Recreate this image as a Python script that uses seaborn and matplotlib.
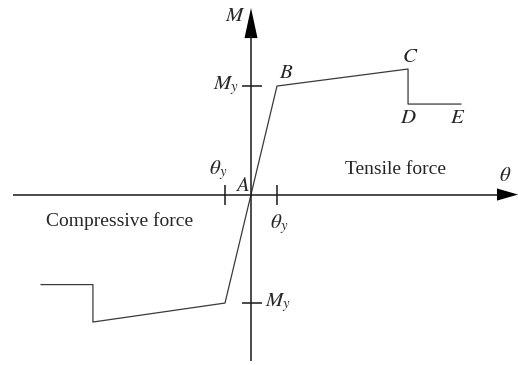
import matplotlib
matplotlib.use("Agg")
import matplotlib.pyplot as plt
import seaborn as sns
import pandas as pd

# Idealised moment-rotation backbone, in units of theta_y and M_y
theta = [-8.08, -6.08, -6.08, -1.0, 1.0, 6.04, 6.04, 8.08]
moment = [-0.83, -0.83, -1.175, -1.0, 1.0, 1.157, 0.834, 0.834]

# Point labels on the curve
point_names = ["B", "C", "D", "E"]
point_theta = [1.35, 6.11, 6.04, 7.96]
point_moment = [1.12, 1.267, 0.705, 0.705]

sns.set_theme(style="white")
plt.rcParams["font.family"] = ["Liberation Serif", "DejaVu Serif"]
plt.rcParams["mathtext.fontset"] = "stix"

fig = plt.figure(figsize=(5.18, 3.65), dpi=100)
ax = fig.add_axes([0, 0, 1, 1])
ax.set_xlim(-9.654, 10.269)
ax.set_ylim(-1.571, 1.793)
ax.axis("off")

df = pd.DataFrame({"theta": theta, "M": moment})
sns.lineplot(data=df, x="theta", y="M", sort=False, estimator=None,
             color="#3a3a3a", lw=0.9, ax=ax)

axis_kw = dict(color="#1a1a1a", lw=1.1, solid_capstyle="butt")
# horizontal axis and arrow head
ax.plot([-9.154, 9.5], [0, 0], **axis_kw)
ax.fill([9.46, 10.27, 9.46], [0.056, 0, -0.056], color="black", lw=0)
# vertical axis and arrow head
ax.plot([0, 0], [-1.535, 1.46], **axis_kw)
ax.fill([-0.25, 0, 0.25], [1.442, 1.719, 1.442], color="black", lw=0)

# yield ticks
for s in (-1, 1):
    ax.plot([s, s], [-0.092, 0.092], **axis_kw)
    ax.plot([-0.35, 0.42], [s, s], **axis_kw)

fs = 15
ax.text(-0.615, 1.645, "$M$", fontsize=fs, ha="center", va="center")
ax.text(9.77, 0.17, r"$\theta$", fontsize=fs, ha="center", va="center")
ax.text(-0.48, 1.0, "$M_y$", fontsize=fs, ha="right", va="center")
ax.text(0.54, -1.0, "$M_y$", fontsize=fs, ha="left", va="center")
ax.text(-1.27, 0.226, r"$\theta_y$", fontsize=fs, ha="center", va="center")
ax.text(1.077, -0.272, r"$\theta_y$", fontsize=fs, ha="center", va="center")
ax.text(-0.346, 0.078, "$A$", fontsize=fs, ha="center", va="center")
for name, x, y in zip(point_names, point_theta, point_moment):
    ax.text(x, y, f"${name}$", fontsize=fs, ha="center", va="center")

ax.text(5.54, 0.235, "Tensile force", fontsize=14, ha="center", va="center")
ax.text(-5.04, -0.244, "Compressive force", fontsize=14, ha="center", va="center")

fig.savefig("out.png", dpi=100)
